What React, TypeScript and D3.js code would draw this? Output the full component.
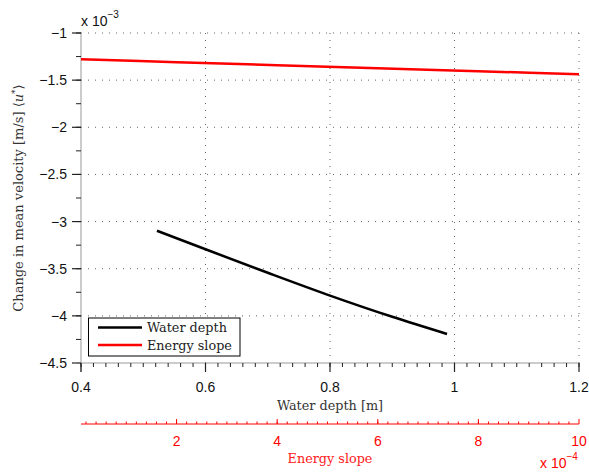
import React from "react";
import * as d3 from "d3";

// Water depth series (x: depth [m], y: change in mean velocity [m/s])
const depthX = [0.522, 0.6, 0.7, 0.8, 0.9, 0.988];
const depthY = [-3.097e-3, -3.294e-3, -3.543e-3, -3.785e-3, -4.01e-3, -4.192e-3];
// Energy slope series (x: energy slope [-], y: change in mean velocity [m/s])
const slopeX = [0.1e-4, 2e-4, 4e-4, 6e-4, 8e-4, 10e-4];
const slopeY = [-1.279e-3, -1.31e-3, -1.342e-3, -1.373e-3, -1.405e-3, -1.437e-3];

const xMajorTicks = [0.4, 0.6, 0.8, 1.0, 1.2];
const xTickLabels = ["0.4", "0.6", "0.8", "1", "1.2"];
const yMajorTicks = [-1e-3, -1.5e-3, -2e-3, -2.5e-3, -3e-3, -3.5e-3, -4e-3, -4.5e-3];
const yTickLabels = ["\u22121", "\u22121.5", "\u22122", "\u22122.5", "\u22123", "\u22123.5", "\u22124", "\u22124.5"];
const sMajorTicks = [2e-4, 4e-4, 6e-4, 8e-4, 10e-4];
const sTickLabels = ["2", "4", "6", "8", "10"];
const legendLabels = ["Water depth", "Energy slope"];
const seriesColors = ["#000000", "#ff0000"];

const L = 81, R = 579, T = 33, B = 363, SA = 424;

export default function App() {
  const x = d3.scaleLinear().domain([0.4, 1.2]).range([L, R]);
  const y = d3.scaleLinear().domain([-4.5e-3, -1e-3]).range([B, T]);
  const s = d3.scaleLinear().domain([0.1e-4, 10e-4]).range([L, R]);

  const xMinor = d3.range(0, 41).map((i) => 0.4 + i * 0.02);
  const yMinor = d3.range(0, 15).map((i) => -4.5e-3 + i * 0.25e-3);
  const sMinor = d3.range(1, 50).map((i) => i * 0.2e-4);

  const lineDepth = d3
    .line<number>()
    .curve(d3.curveMonotoneX)
    .x((_, i) => x(depthX[i]))
    .y((v) => y(v))(depthY) as string;
  const lineSlope = d3
    .line<number>()
    .curve(d3.curveMonotoneX)
    .x((_, i) => s(slopeX[i]))
    .y((v) => y(v))(slopeY) as string;

  const sans = "'Liberation Sans', Arial, sans-serif";
  const serif = "'DejaVu Serif', serif";
  const grid = "#666";

  return (
    <svg
      width={589}
      height={474}
      style={{ position: "absolute", left: 0, top: 0, background: "#fff" }}
    >
      {/* grid */}
      {yMajorTicks.slice(0, -1).map((t, i) => (
        <line key={"gy" + i} x1={L} x2={R} y1={y(t)} y2={y(t)} stroke={grid} strokeWidth={1} strokeDasharray="1,6" />
      ))}
      {xMajorTicks.slice(1).map((t, i) => (
        <line key={"gx" + i} x1={x(t)} x2={x(t)} y1={T} y2={B} stroke={grid} strokeWidth={1} strokeDasharray="1,6" />
      ))}

      {/* left axis */}
      <line x1={L} x2={L} y1={T} y2={B + 9} stroke="#999" strokeWidth={1} />
      {yMinor.map((t, i) => (
        <line key={"ym" + i} x1={L - 5} x2={L} y1={y(t)} y2={y(t)} stroke="#222" strokeWidth={1} />
      ))}
      {yMajorTicks.map((t, i) => (
        <line key={"yt" + i} x1={L - 9} x2={L} y1={y(t)} y2={y(t)} stroke="#222" strokeWidth={1.2} />
      ))}
      {yMajorTicks.map((t, i) => (
        <text key={"yl" + i} x={L - 14} y={y(t) + 5} textAnchor="end" fontFamily={sans} fontSize={14} fill="#111">
          {yTickLabels[i]}
        </text>
      ))}
      <text x={L} y={26} fontFamily={sans} fontSize={14} fill="#111">
        x 10<tspan dy={-8} fontSize={10}>{"\u22123"}</tspan>
      </text>

      {/* bottom axis */}
      <line x1={L - 6} x2={R} y1={B} y2={B} stroke="#999" strokeWidth={1} />
      {xMinor.map((t, i) => (
        <line key={"xm" + i} x1={x(t)} x2={x(t)} y1={B} y2={B + 4} stroke="#222" strokeWidth={1} />
      ))}
      {xMajorTicks.map((t, i) => (
        <line key={"xt" + i} x1={x(t)} x2={x(t)} y1={B} y2={B + 9} stroke="#222" strokeWidth={1.2} />
      ))}
      {xMajorTicks.map((t, i) => (
        <text key={"xl" + i} x={x(t)} y={392} textAnchor="middle" fontFamily={sans} fontSize={14} fill="#111">
          {xTickLabels[i]}
        </text>
      ))}
      <text x={330} y={410} textAnchor="middle" fontFamily={serif} fontSize={12.8} fill="#333">
        Water depth [m]
      </text>

      {/* energy slope axis */}
      <line x1={L} x2={R} y1={SA} y2={SA} stroke="#ff0000" strokeWidth={1} />
      {sMinor.map((t, i) => (
        <line key={"sm" + i} x1={s(t)} x2={s(t)} y1={SA} y2={SA - 2.5} stroke="#ff0000" strokeWidth={1} />
      ))}
      {sMajorTicks.map((t, i) => (
        <line key={"st" + i} x1={s(t)} x2={s(t)} y1={SA} y2={SA - 5} stroke="#ff0000" strokeWidth={1} />
      ))}
      {sMajorTicks.map((t, i) => (
        <text key={"sl" + i} x={s(t)} y={446} textAnchor="middle" fontFamily={sans} fontSize={14} fill="#ff0000">
          {sTickLabels[i]}
        </text>
      ))}
      <text x={330} y={463} textAnchor="middle" fontFamily={serif} fontSize={12.8} fill="#ff2020">
        Energy slope
      </text>
      <text x={540} y={468} fontFamily={sans} fontSize={14} fill="#ff0000">
        x 10<tspan dy={-8} fontSize={10}>{"\u22124"}</tspan>
      </text>

      {/* y label */}
      <text
        transform="translate(23,198) rotate(-90)"
        textAnchor="middle"
        fontFamily={serif}
        fontSize={13}
        fill="#333"
      >
        Change in mean velocity [m/s] {"\u27e8"}
        <tspan fontStyle="italic">u</tspan>
        <tspan dy={-5} fontSize={9}>*</tspan>
        <tspan dy={5}>{"\u27e9"}</tspan>
      </text>

      {/* series */}
      <path d={lineSlope} fill="none" stroke={seriesColors[1]} strokeWidth={2.5} />
      <path d={lineDepth} fill="none" stroke={seriesColors[0]} strokeWidth={2.5} />

      {/* legend */}
      <rect x={88.5} y={318} width={151.5} height={38} fill="#fff" stroke="#000" strokeWidth={1} />
      {legendLabels.map((lab, i) => (
        <g key={"lg" + i}>
          <line x1={98} x2={142} y1={327.5 + i * 17.5} y2={327.5 + i * 17.5} stroke={seriesColors[i]} strokeWidth={2.5} />
          <text x={147} y={332 + i * 17.5} fontFamily={serif} fontSize={12.8} fill="#222">
            {lab}
          </text>
        </g>
      ))}
    </svg>
  );
}
